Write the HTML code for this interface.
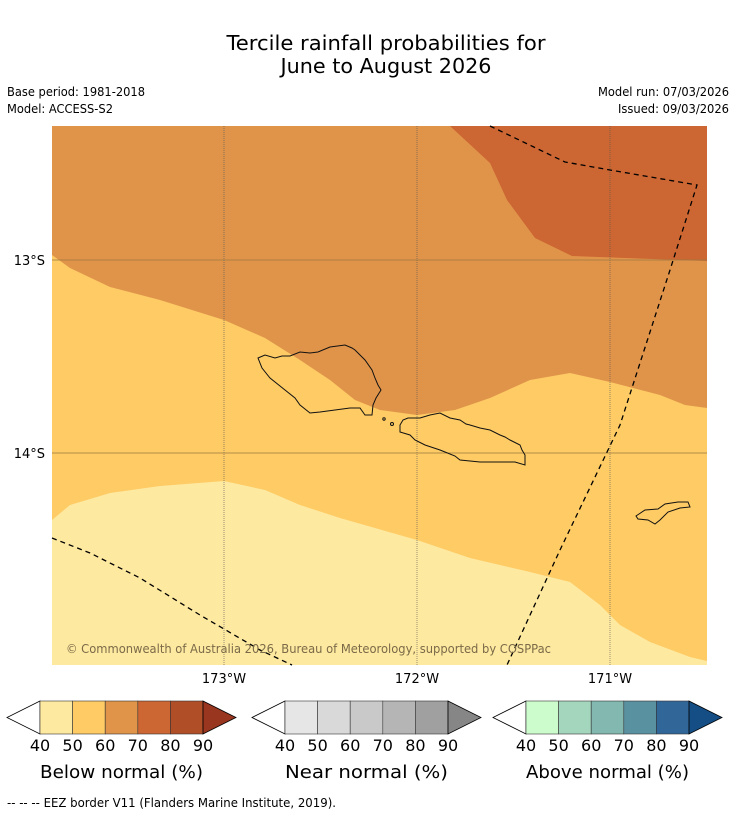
<!DOCTYPE html>
<html><head><meta charset="utf-8">
<style>
body{margin:0;background:#fff;width:736px;height:816px;overflow:hidden;font-family:"DejaVu Sans","Liberation Sans",sans-serif;}
</style></head>
<body>
<svg id="chart" width="736" height="816" xmlns="http://www.w3.org/2000/svg" font-family="DejaVu Sans, Liberation Sans, sans-serif">
<text x="386" y="50" text-anchor="middle" font-size="20" textLength="319" lengthAdjust="spacingAndGlyphs">Tercile rainfall probabilities for</text>
<text x="386" y="73" text-anchor="middle" font-size="20" textLength="211" lengthAdjust="spacingAndGlyphs">June to August 2026</text>
<text x="7" y="96" font-size="12" textLength="138" lengthAdjust="spacingAndGlyphs">Base period: 1981-2018</text>
<text x="7" y="113" font-size="12" textLength="106" lengthAdjust="spacingAndGlyphs">Model: ACCESS-S2</text>
<text x="729" y="96" font-size="12" text-anchor="end" textLength="131" lengthAdjust="spacingAndGlyphs">Model run: 07/03/2026</text>
<text x="729" y="113" font-size="12" text-anchor="end" textLength="111" lengthAdjust="spacingAndGlyphs">Issued: 09/03/2026</text>
<g id="map">
<rect x="52" y="126" width="655" height="539" fill="#e0944a"/>
<polygon fill="#cc6633" points="450,126 490,163 507,200 535,238 572,256 707,261 707,126"/>
<polygon fill="#fecb65" points="52,255 70,268 110,287 160,300 224,320 265,338 300,360 330,380 355,400 380,410 417,415 455,410 490,398 530,380 570,373 610,382 660,395 685,405 707,408 707,665 52,665"/>
<polygon fill="#fee9a0" points="52,520 70,505 110,493 160,486 224,481 265,490 300,505 340,518 417,540 470,558 530,572 570,582 600,605 620,625 650,642 690,657 707,661 707,665 52,665"/>
<g id="grid"></g>
<g fill="none" stroke="#111" stroke-width="1">
<polygon points="258,358 265,355 275,358 282,356 290,356 300,352 310,353 318,352 330,347 345,345 352,348 355,350 365,360 372,370 375,378 378,385 381,390 376,398 373,405 372,415 365,415 360,408 350,408 335,410 320,412 310,413 300,405 295,398 285,390 270,378 262,368"/>
<polygon points="400,425 403,420 408,418 420,418 430,415 440,413 450,418 460,420 466,424 470,425 480,428 490,430 500,435 505,437 510,440 520,445 522,450 525,455 525,465 515,462 500,462 480,462 460,460 455,456 445,452 440,450 425,445 415,440 410,435 400,432"/>
<circle cx="384" cy="419" r="1.2"/>
<circle cx="392" cy="424" r="1.5"/>
<polygon points="636,516 645,510 658,509 665,504 678,502 688,502 690,507 680,508 668,512 660,520 655,524 648,520 638,519"/>
</g>
<g fill="none" stroke="#000" stroke-width="1.3" stroke-dasharray="5,4">
<polyline points="490,126 565,162 610,170 697,185 670,270 620,425 560,550 507,665"/>
<polyline points="52,538 90,553 140,578 200,615 260,650 292,665"/>
</g>
<text x="66" y="653" font-size="12" fill="#7a6a48" textLength="485" lengthAdjust="spacingAndGlyphs">© Commonwealth of Australia 2026, Bureau of Meteorology, supported by COSPPac</text>
</g>
<g id="axes" font-size="13"></g>
<g id="cbars"></g>
<text x="7" y="807" font-size="12" textLength="329" lengthAdjust="spacingAndGlyphs">--  --  -- EEZ border V11 (Flanders Marine Institute, 2019).</text>
</svg>
<script>
const lonTicks=["173°W","172°W","171°W"];
const lonVals=[-173,-172,-171];
const latTicks=["13°S","14°S"];
const latVals=[-13,-14];
const cbarTicks=[40,50,60,70,80,90];
const belowColors=["#fee9a0","#fecb65","#e0944a","#cc6633","#b04e27","#993620"];
const nearColors=["#e6e6e6","#d9d9d9","#c9c9c9","#b5b5b5","#a0a0a0","#868686"];
const aboveColors=["#ccfccc","#a4d6bd","#82b8b0","#5a91a0","#316699","#154e85"];
const cbarTitles=["Below normal (%)","Near normal (%)","Above normal (%)"];
const NS="http://www.w3.org/2000/svg";
const xS=v=>224+(v+173)*193;
const yS=v=>260+(-13-v)*193;
function mk(t,a,p){const e=document.createElementNS(NS,t);for(const k in a)e.setAttribute(k,a[k]);p.appendChild(e);return e;}
const grid=document.getElementById('grid'),axes=document.getElementById('axes');
lonVals.forEach((v,i)=>{
 const l=mk('line',{x1:xS(v),x2:xS(v),y1:126,y2:665,stroke:'#555','stroke-width':0.6,'stroke-dasharray':'1,1'},grid);
 
 
 const t=mk('text',{x:xS(v),y:683,'text-anchor':'middle'},axes);t.textContent=lonTicks[i];
 
 
});
latVals.forEach((v,i)=>{
 const l=mk('line',{x1:52,x2:707,y1:yS(v),y2:yS(v),stroke:'#9a7a40','stroke-width':0.7},grid);
 
 
 const t=mk('text',{x:45,y:yS(v)+5,'text-anchor':'end'},axes);t.textContent=latTicks[i];
 
 
});
const cb=document.getElementById('cbars');
const starts=[40,285,526],cw=32.6;
[belowColors,nearColors,aboveColors].forEach((cols,bi)=>{
 const x0=starts[bi],y0=701,h=33;
 const g=mk('g',{},cb);
 
 
 const lt=mk('polygon',{points:`${x0},${y0} ${x0-33},${y0+h/2} ${x0},${y0+h}`,fill:'#fff',stroke:'#000','stroke-width':0.8},g);
 
 
 for(let i=0;i<5;i++){
  const r=mk('rect',{x:x0+i*cw,y:y0,width:cw,height:h,fill:cols[i],stroke:'#333','stroke-width':0.6},g);
  
  
 }
 const xe=x0+5*cw;
 const rt=mk('polygon',{points:`${xe},${y0} ${xe+33},${y0+h/2} ${xe},${y0+h}`,fill:cols[5],stroke:'#000','stroke-width':0.8},g);
 
 
 cbarTicks.forEach((v,i)=>{
  const t=mk('text',{x:x0+i*cw,y:751,'text-anchor':'middle','font-size':16},g);t.textContent=v;
  
  
 });
 const tt=mk('text',{x:x0+2.5*cw,y:778,'text-anchor':'middle','font-size':18,textLength:163,lengthAdjust:'spacingAndGlyphs'},g);tt.textContent=cbarTitles[bi];
 
 
});
</script>
</body></html>
